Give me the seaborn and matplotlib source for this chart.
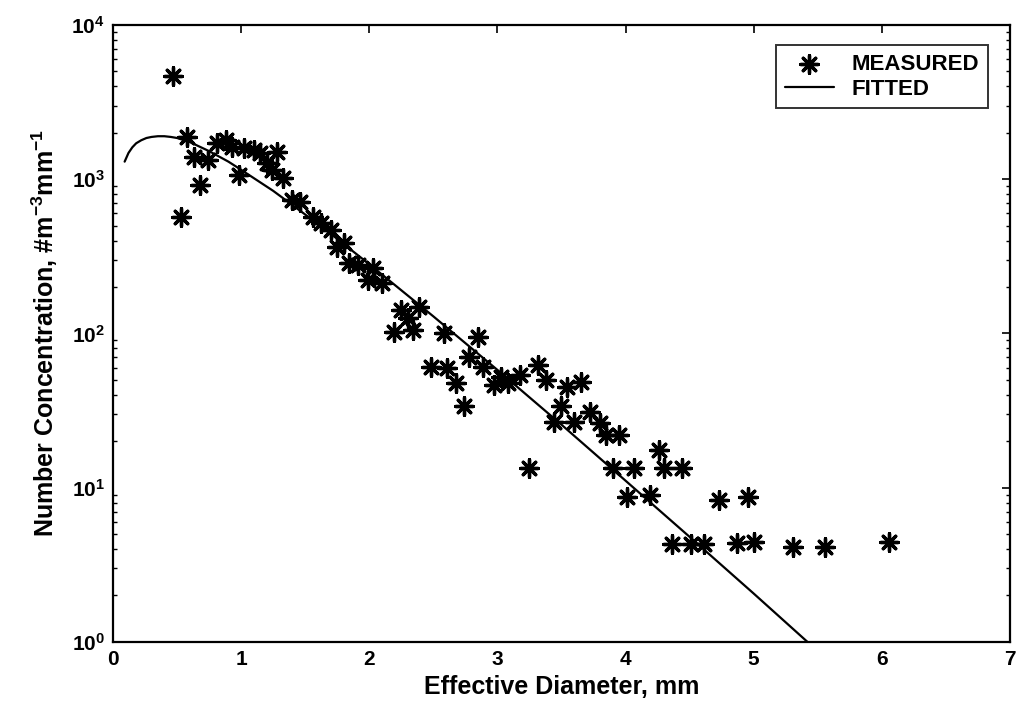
import matplotlib
matplotlib.use("Agg")
import matplotlib.pyplot as plt
import seaborn as sns
import pandas as pd
from matplotlib.ticker import LogLocator, NullFormatter, FixedLocator

# Measured data (effective diameter mm, number concentration)
meas_d = [0.47, 0.53, 0.58, 0.63, 0.68, 0.74, 0.81, 0.88, 0.93, 0.98, 1.02, 1.10,
          1.15, 1.20, 1.24, 1.28, 1.33, 1.40, 1.46, 1.56, 1.62, 1.70, 1.75, 1.80,
          1.84, 1.91, 1.99, 2.03, 2.10, 2.19, 2.25, 2.30, 2.34, 2.39, 2.48, 2.58,
          2.61, 2.68, 2.74, 2.78, 2.85, 2.89, 2.97, 3.03, 3.08, 3.18, 3.25, 3.32,
          3.38, 3.44, 3.50, 3.54, 3.60, 3.65, 3.72, 3.80, 3.85, 3.90, 3.95, 4.01,
          4.07, 4.19, 4.26, 4.30, 4.36, 4.44, 4.51, 4.61, 4.73, 4.87, 4.96, 5.00,
          5.31, 5.56, 6.06]
meas_n = [4700, 570, 1880, 1400, 920, 1340, 1720, 1800, 1620, 1070, 1600, 1550,
          1480, 1275, 1150, 1500, 1020, 730, 710, 570, 520, 470, 364, 386,
          287, 278, 222, 266, 213, 102, 142, 126, 105, 149, 61, 101,
          60, 48, 34, 70, 95, 61, 46, 52, 48, 54, 13.4, 62,
          50, 26.7, 34, 45, 26.7, 48.5, 31, 26.3, 22, 13.4, 22, 8.7,
          13.4, 9.0, 17.6, 13.4, 4.3, 13.4, 4.3, 4.3, 8.3, 4.4, 8.7, 4.45,
          4.1, 4.1, 4.45]

# Fitted curve
fit_d = [0.09, 0.12, 0.15, 0.18, 0.22, 0.26, 0.30, 0.35, 0.40, 0.45, 0.50, 0.60,
         0.75, 0.90, 1.00, 1.25, 1.50, 1.75, 2.00, 2.50, 3.00, 3.50, 4.00, 4.50,
         5.00, 5.45]
fit_n = [1300, 1480, 1610, 1710, 1790, 1850, 1880, 1900, 1900, 1880, 1850, 1740,
         1520, 1300, 1150, 840, 590, 410, 281, 129, 58, 25.6, 11.1, 4.8,
         2.06, 0.95]

xticks = [0, 1, 2, 3, 4, 5, 6, 7]
yticks = [1, 10, 100, 1000, 10000]
ytick_labels = ["$\\mathbf{10^{0}}$", "$\\mathbf{10^{1}}$", "$\\mathbf{10^{2}}$",
                "$\\mathbf{10^{3}}$", "$\\mathbf{10^{4}}$"]

sns.set_theme(style="white")
plt.rcParams['font.family'] = ['Liberation Sans', 'DejaVu Sans']
plt.rcParams['mathtext.fontset'] = 'custom'
plt.rcParams['mathtext.rm'] = 'Liberation Sans'
plt.rcParams['mathtext.bf'] = 'Liberation Sans:bold'
plt.rcParams['mathtext.it'] = 'Liberation Sans:italic'
plt.rcParams['text.color'] = 'black'
plt.rcParams['axes.labelcolor'] = 'black'
plt.rcParams['xtick.color'] = 'black'
plt.rcParams['ytick.color'] = 'black'

fig = plt.figure(figsize=(10.19, 7.14), dpi=100)
ax = fig.add_axes([0.111, 0.101, 0.880, 0.864])

df_m = pd.DataFrame({"d": meas_d, "n": meas_n})
df_f = pd.DataFrame({"d": fit_d, "n": fit_n})

sns.lineplot(data=df_f, x="d", y="n", ax=ax, color="black", linewidth=1.6,
             label="FITTED", sort=True)
sns.scatterplot(data=df_m, x="d", y="n", ax=ax, marker=(8, 2, 0), s=160,
                color="black", linewidth=2.4, edgecolor="black", label="MEASURED")

ax.set_yscale("log")
ax.set_xlim(0, 7)
ax.set_ylim(1, 10000)
ax.xaxis.set_major_locator(FixedLocator(xticks))
ax.set_xticklabels([str(t) for t in xticks])
ax.yaxis.set_major_locator(FixedLocator(yticks))
ax.set_yticklabels(ytick_labels)
ax.yaxis.set_minor_locator(LogLocator(base=10, subs=range(2, 10)))
ax.yaxis.set_minor_formatter(NullFormatter())

ax.tick_params(axis="both", which="major", direction="in", length=6, width=1.2,
               top=True, right=True, labelsize=15, pad=6, colors="black")
ax.tick_params(axis="y", which="minor", direction="in", length=3, width=1,
               left=True, right=True)
for lab in ax.get_xticklabels() + ax.get_yticklabels():
    lab.set_fontweight("bold")

for sp in ax.spines.values():
    sp.set_color("black")
    sp.set_linewidth(1.6)

ax.set_xlabel("Effective Diameter, mm", fontsize=18, fontweight="bold",
              labelpad=4, color="black")
ax.set_ylabel("Number Concentration, #m$^{\\mathbf{-3}}$mm$^{\\mathbf{-1}}$",
              fontsize=18, fontweight="bold", labelpad=8, color="black")

handles, labels = ax.get_legend_handles_labels()
order = [labels.index("MEASURED"), labels.index("FITTED")]
leg = ax.legend([handles[i] for i in order], [labels[i] for i in order],
                loc="upper right", fontsize=16, frameon=True, fancybox=False,
                edgecolor="black", borderpad=0.4, handlelength=2.2,
                bbox_to_anchor=(0.988, 0.985), labelspacing=0.15)
leg.get_frame().set_linewidth(1.4)
for t in leg.get_texts():
    t.set_fontweight("bold")
    t.set_color("black")

fig.savefig("out.png", dpi=100, facecolor="white")
